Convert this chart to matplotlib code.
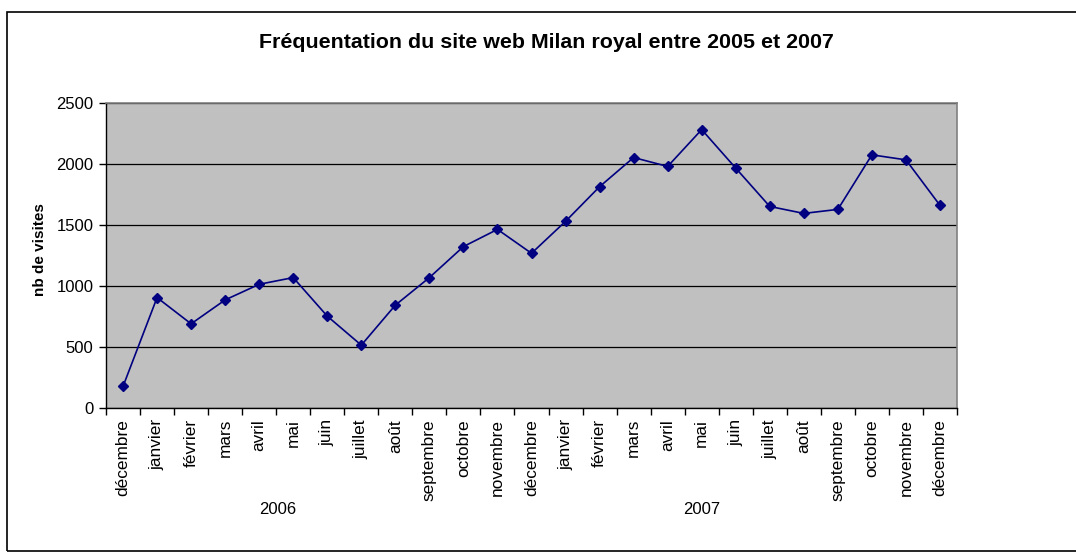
import matplotlib
matplotlib.use("Agg")
import matplotlib.pyplot as plt
from matplotlib.patches import Rectangle

plt.rcParams['font.family'] = ['Liberation Sans', 'DejaVu Sans']

months = ["décembre", "janvier", "février", "mars", "avril", "mai", "juin",
          "juillet", "août", "septembre", "octobre", "novembre", "décembre",
          "janvier", "février", "mars", "avril", "mai", "juin", "juillet",
          "août", "septembre", "octobre", "novembre", "décembre"]
visits = [177, 905, 690, 886, 1014, 1069, 753, 515, 843, 1069, 1323, 1464, 1268,
          1530, 1814, 2053, 1980, 2282, 1966, 1652, 1595, 1628, 2075, 2034, 1661]
years = ["2006", "2007"]
yticks = [0, 500, 1000, 1500, 2000, 2500]

W, H = 1076, 553
fig = plt.figure(figsize=(W / 100, H / 100), dpi=100)

# outer chart border
fig.patches.append(Rectangle((7 / W, (H - 551) / H), (W + 20) / W, (551 - 12) / H,
                             transform=fig.transFigure, fill=False,
                             edgecolor="black", linewidth=1.2))

L, R, T, B = 106, 957, 103, 408
ax = fig.add_axes([L / W, (H - B) / H, (R - L) / W, (B - T) / H])
ax.set_facecolor("#C0C0C0")

x = list(range(len(visits)))
ax.plot(x, visits, color="#000080", linewidth=1.2, marker="D", markersize=5.5,
        markerfacecolor="#000080", markeredgecolor="#000080", zorder=3)

ax.set_xlim(-0.5, len(visits) - 0.5)
ax.set_ylim(0, 2500)
ax.set_yticks(yticks)
ax.set_yticklabels([str(v) for v in yticks], fontsize=12)
ax.yaxis.grid(True, color="black", linewidth=0.9)
ax.set_axisbelow(True)

ax.set_xticks([i - 0.5 for i in range(len(visits) + 1)])
ax.set_xticklabels([])
ax.set_xticks(x, minor=True)
ax.set_xticklabels(months, minor=True, rotation=90, fontsize=12.4, va="top")
ax.tick_params(axis="x", which="minor", length=0, pad=8)
ax.tick_params(axis="x", which="major", length=5, width=1, direction="out")
ax.tick_params(axis="y", length=5, width=1, direction="out", pad=4)

for s in ["top", "right"]:
    ax.spines[s].set_color("#808080")
    ax.spines[s].set_linewidth(1.2)
for s in ["left", "bottom"]:
    ax.spines[s].set_color("black")
    ax.spines[s].set_linewidth(1)

ax.text(0.2021, -0.333, years[0], transform=ax.transAxes, ha="center", va="center", fontsize=12)
ax.text(0.7003, -0.333, years[1], transform=ax.transAxes, ha="center", va="center", fontsize=12)

fig.text(546 / W, 1 - 43 / H, "Fréquentation du site web Milan royal entre 2005 et 2007",
         ha="center", va="center", fontsize=15.4, fontweight="bold")
fig.text(40 / W, 1 - 250 / H, "nb de visites", rotation=90, ha="center", va="center",
         fontsize=11, fontweight="bold")

fig.savefig("out.png", dpi=100)
